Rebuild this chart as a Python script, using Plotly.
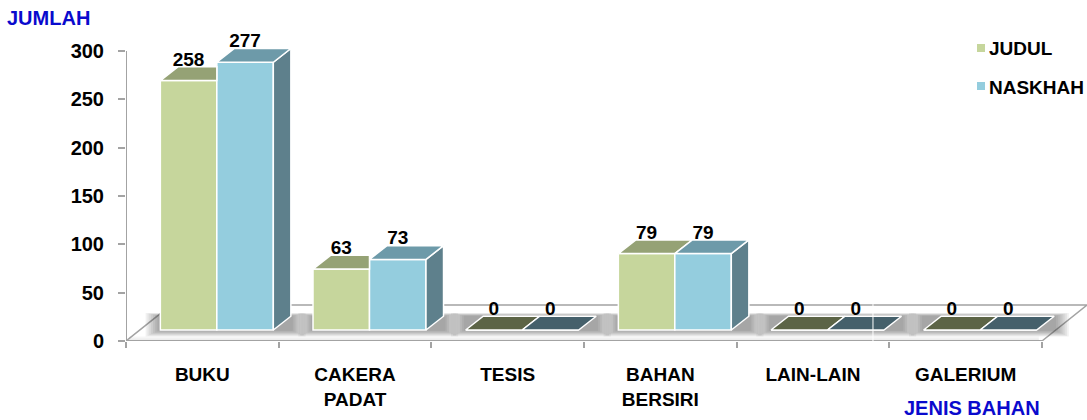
import plotly.graph_objects as go

# Data
kategori = ["BUKU", "CAKERA<br>PADAT", "TESIS", "BAHAN<br>BERSIRI", "LAIN-LAIN", "GALERIUM"]
judul = [258, 63, 0, 79, 0, 0]
naskhah = [277, 73, 0, 79, 0, 0]
y_ticks = [0, 50, 100, 150, 200, 250, 300]

# 3D look, in axis units
BASE = 11.4      # front of the bars sits above the axis
DX = 0.115       # depth offset along x
DY = 14.2        # depth offset along y
LEBAR = 0.37     # bar width
KIRI = 0.225     # left edge of a group inside its category
FLOOR_Y = 37.2
X_MAX = 6.295
Y_MAX = 326.9
FONT = "Liberation Sans"
BIRU = "#0A0ACD"
GREY = "#A3A3A3"
# plot area in page pixels, for placing the free texts
L, W, B, H = 126, 961, 341, 316

x_judul = [i + KIRI + LEBAR / 2 for i in range(len(kategori))]
x_naskhah = [i + KIRI + LEBAR * 1.5 for i in range(len(kategori))]


def px(x):
    return (x - L) / W


def py(y):
    return (B - y) / H


def top_face(cx, val, clip=False):
    left, right = cx - LEBAR / 2, cx + LEBAR / 2
    t = BASE + val
    far = right if clip else right + DX
    xs = [left, right, far, left + DX, left, None]
    ys = [t, t, t + DY, t + DY, t, None]
    return xs, ys


def side_face(cx, val):
    r = cx + LEBAR / 2
    t = BASE + val
    return [r, r + DX, r + DX, r, r, None], [BASE, BASE + DY, t + DY, t, BASE, None]


def collect(items):
    xs, ys = [], []
    for a, b in items:
        xs += a
        ys += b
    return xs, ys


def polygon(xy, color, line="white"):
    return go.Scatter(x=xy[0], y=xy[1], mode="lines", fill="toself", fillcolor=color,
                      line=dict(color=line, width=1.5), hoverinfo="skip", showlegend=False)


fig = go.Figure()

# front faces
fig.add_bar(x=x_judul, y=judul, base=[BASE] * 6, width=LEBAR, name="JUDUL",
            marker=dict(color="#C6D69C", line=dict(color="white", width=1.5)), showlegend=False)
fig.add_bar(x=x_naskhah, y=naskhah, base=[BASE] * 6, width=LEBAR, name="NASKHAH",
            marker=dict(color="#94CDDE", line=dict(color="white", width=1.5)), showlegend=False)

# tops and sides, worked out from the values
pairs = list(zip(x_judul, judul, naskhah))
fig.add_trace(polygon(collect([top_face(c, j, n > j) for c, j, n in pairs if j > 0]), "#95A275"))
fig.add_trace(polygon(collect([top_face(c, j) for c, j, n in pairs if j == 0]), "#5C6446"))
fig.add_trace(polygon(collect([side_face(c, n) for c, n in zip(x_naskhah, naskhah) if n > 0]), "#5E808C"))
fig.add_trace(polygon(collect([top_face(c, n) for c, n in zip(x_naskhah, naskhah) if n > 0]), "#6D9AA9"))
fig.add_trace(polygon(collect([top_face(c, n) for c, n in zip(x_naskhah, naskhah) if n == 0]), "#45606B"))

# value labels
fig.add_scatter(x=x_judul + x_naskhah, y=[BASE + v + 20.5 for v in judul + naskhah],
                mode="text", text=[str(v) for v in judul + naskhah], textposition="middle center",
                textfont=dict(family=FONT, size=19, color="black", weight="bold"),
                hoverinfo="skip", showlegend=False, cliponaxis=False)

shapes = []
# floor plate
shapes.append(dict(type="path", layer="below",
                   path=f"M0,0 L6,0 L{X_MAX},{FLOOR_Y} L{X_MAX - 6},{FLOOR_Y} Z",
                   fillcolor="white", line=dict(color=GREY, width=1.5)))
# soft grey strip along the front of the floor
for k in range(1, 4):
    shapes.append(dict(type="rect", layer="below", x0=0.02, x1=5.98, y0=1, y1=1 + k * 1.3,
                       fillcolor="#808080", opacity=0.05, line=dict(width=0)))
# blurred shadows round the groups
for i in range(6):
    x0, x1 = i + KIRI, i + KIRI + 2 * LEBAR + DX
    for k in range(1, 9):
        pad_x, pad_y = k * 0.012, k * 0.85
        shapes.append(dict(type="rect", layer="below",
                           x0=x0 - pad_x, x1=x1 + pad_x,
                           y0=BASE - pad_y, y1=BASE + DY + pad_y * 0.5,
                           fillcolor="#404040", opacity=0.075, line=dict(width=0)))
# axis lines
shapes.append(dict(type="line", x0=0, x1=0, y0=0, y1=300, line=dict(color=GREY, width=2)))
shapes.append(dict(type="line", x0=0, x1=6, y0=0, y1=0, line=dict(color=GREY, width=2)))
# white seam in the picture
shapes.append(dict(type="line", x0=4.893, x1=4.893, y0=-4, y1=FLOOR_Y + 1, line=dict(color="white", width=1)))

# legend
leg_x = [981, 981]
leg_y = [48, 86]
leg_warna = ["#C6D69C", "#94CDDE"]
leg_nama = ["JUDUL", "NASKHAH"]
annotations = []
for lx, ly, w, nama in zip(leg_x, leg_y, leg_warna, leg_nama):
    shapes.append(dict(type="rect", xref="paper", yref="paper", x0=px(lx - 4), x1=px(lx + 4),
                       y0=py(ly + 4), y1=py(ly - 4), fillcolor=w, line=dict(width=0)))
    annotations.append(dict(xref="paper", yref="paper", x=px(lx + 6), y=py(ly + 1), text=nama, showarrow=False,
                            xanchor="left", yanchor="middle",
                            font=dict(family=FONT, size=19, color="black", weight="bold")))

# axis titles
annotations.append(dict(xref="paper", yref="paper", x=px(5), y=py(18), text="JUMLAH", showarrow=False,
                        xanchor="left", yanchor="middle",
                        font=dict(family=FONT, size=20, color=BIRU, weight="bold")))
annotations.append(dict(xref="paper", yref="paper", x=px(972), y=py(408), text="JENIS BAHAN", showarrow=False,
                        xanchor="center", yanchor="middle",
                        font=dict(family=FONT, size=20, color=BIRU, weight="bold")))

fig.update_layout(
    width=1087, height=420, autosize=False,
    margin=dict(l=L, r=0, t=420 - 79 - H, b=79, pad=0),
    paper_bgcolor="white", plot_bgcolor="white",
    barmode="overlay", showlegend=False,
    shapes=shapes, annotations=annotations,
    xaxis=dict(range=[0, X_MAX], tickvals=[i + 0.5 for i in range(6)], ticktext=kategori,
               showgrid=False, zeroline=False, showline=False, ticks="", ticklabelstandoff=20,
               tickfont=dict(family=FONT, size=19, color="black", weight="bold"),
               minor=dict(tickvals=list(range(7)), ticks="outside", ticklen=6, tickwidth=2,
                          tickcolor=GREY, showgrid=False)),
    yaxis=dict(range=[0, Y_MAX], tickvals=y_ticks, showgrid=False, zeroline=False, showline=False,
               ticks="outside", ticklen=7, tickwidth=2, tickcolor=GREY, ticklabelstandoff=10,
               tickfont=dict(family=FONT, size=20, color="black", weight="bold")),
)

# the page's default body margin would shift the whole chart
fig.write_html("out.html", config={"displayModeBar": False}, post_script="document.body.style.margin='0';")
